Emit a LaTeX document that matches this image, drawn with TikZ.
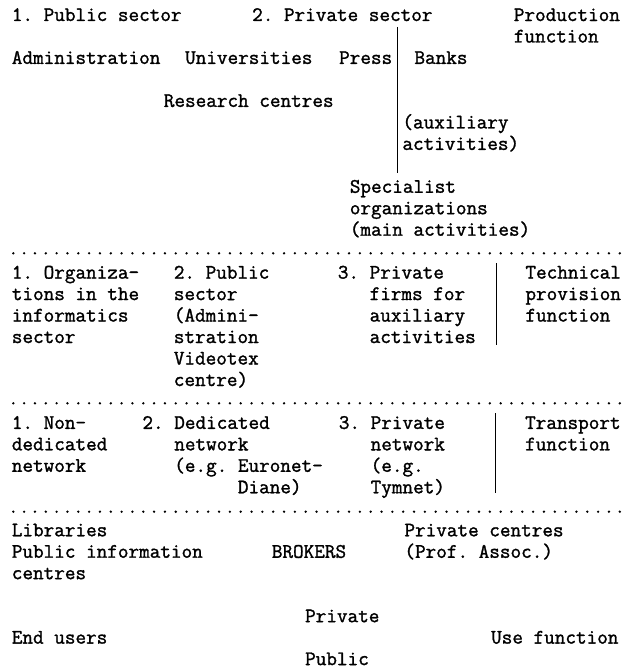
\documentclass[tikz,border=0pt]{standalone}
\usepackage{fontspec}
\setmonofont{Latin Modern Mono}[FakeBold=1.4]
\usepackage{tikz}
\usetikzlibrary{positioning,calc}

\begin{document}
\begin{tikzpicture}[x=1pt, y=-1pt, line width=1.3pt]
	\tikzstyle{txt}=[anchor=base west, inner sep=0pt, align=left, text=black,
		font=\ttfamily\fontsize{20.6}{21.47}\selectfont]
	\tikzstyle{dot}=[fill=black]
	\useasboundingbox (0,0) rectangle (638,669);
	% production function (multi-line nodes sit on their last line)
	\node[txt]  (pub)    at (11.2,21)    {1. Public sector};
	\node[txt]  (priv)   at (251.5,21)   {2. Private sector};
	\node[txt]  (prodfn) at (513.2,42.5) {Production\\function};
	\node[txt]  (admin)  at (11.2,63.9)  {Administration};
	\node[txt]  (univ)   at (184.5,63.9) {Universities};
	\node[txt]  (press)  at (338.5,63.9) {Press};
	\node[txt]  (banks)  at (413.8,63.9) {Banks};
	\node[txt]  (resc)   at (163.2,106.9) {Research centres};
	\node[txt]  (aux)    at (401.8,149.9) {(auxiliary\\activities)};
	\node[txt]  (spec)   at (349.2,235.7) {Specialist\\organizations\\(main activities)};
	\coordinate (s1t) at (397.3,27);
	\coordinate (s1b) at (397.3,173);
	\draw (s1t) -- (s1b);
	% technical provision function
	\node[txt]  (orgs)   at (11.2,343.0)  {1. Organiza-\\tions in the\\informatics\\sector};
	\node[txt]  (pubs)   at (173.2,386.0) {2. Public\\sector\\(Admini-\\stration\\Videotex\\centre)};
	\node[txt]  (firms)  at (337.2,343.0) {3. Private\\\hphantom{3. }firms for\\\hphantom{3. }auxiliary\\\hphantom{3. }activities};
	\node[txt]  (techfn) at (524.8,321.5) {Technical\\provision\\function};
	\coordinate (s2t) at (496.3,263);
	\coordinate (s2b) at (496.3,345);
	\draw (s2t) -- (s2b);
	% transport function
	\node[txt]  (nondn)  at (11.2,471.8)  {1. Non-\\dedicated\\network};
	\node[txt]  (dedn)   at (141.8,493.3) {2. Dedicated\\\hphantom{2. }network\\\hphantom{2. }(e.g. Euronet-\\\hphantom{2. (e.g. }Diane)};
	\node[txt]  (privn)  at (338.2,493.3) {3. Private\\\hphantom{3. }network\\\hphantom{3. }(e.g.\\\hphantom{3. }Tymnet)};
	\node[txt]  (trfn)   at (524.5,450.4) {Transport\\function};
	\coordinate (s3t) at (495.7,413);
	\coordinate (s3b) at (495.7,493);
	\draw (s3t) -- (s3b);
	% use function
	\node[txt]  (libs)   at (11.2,579.2)  {Libraries\\Public information\\centres};
	\node[txt]  (brok)   at (271.2,557.8) {BROKERS};
	\node[txt]  (privc)  at (403.8,557.8) {Private centres\\(Prof. Assoc.)};
	\node[txt]  (prv)    at (304.5,622.2) {Private};
	\node[txt]  (endu)   at (11.2,643.6)  {End users};
	\node[txt]  (usefn)  at (490.5,643.6) {Use function};
	\node[txt]  (pbl)    at (304.5,665.1) {Public};
	% dotted rules
	\foreach \y in {253.3,403.3,511.7}
		\foreach \i in {0,...,56}
			\fill[dot] (13.3+\i*10.83,\y) circle (1.3);
\end{tikzpicture}
\end{document}
